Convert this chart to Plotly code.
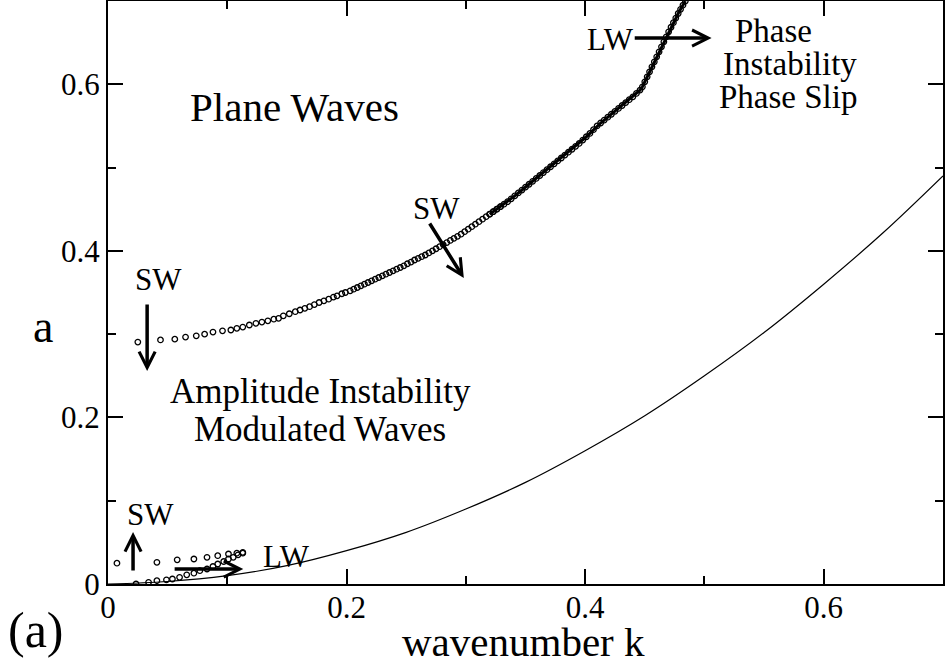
import plotly.graph_objects as go

# ---- data ----
# solid curve (lower boundary)
K_LINE = [0.0, 0.05, 0.10, 0.15, 0.20, 0.25, 0.30, 0.35, 0.40, 0.45, 0.50, 0.55, 0.60, 0.65, 0.70]
A_LINE = [0.0, 0.003, 0.010, 0.022, 0.040, 0.062, 0.090, 0.122, 0.160, 0.202, 0.250, 0.302, 0.360, 0.422, 0.490]

# upper boundary (open circles)
K_UP = [0.025, 0.044, 0.056, 0.065, 0.074, 0.081, 0.088, 0.096, 0.103, 0.108, 0.113, 0.1185, 0.124, 0.129,
        0.134, 0.139, 0.143, 0.147, 0.152, 0.157, 0.161, 0.165, 0.169, 0.173, 0.177, 0.181, 0.185, 0.189,
        0.192, 0.196, 0.199, 0.203, 0.206, 0.209, 0.212, 0.215, 0.218, 0.221, 0.224, 0.227, 0.230, 0.233,
        0.236, 0.239, 0.242, 0.245, 0.248, 0.251, 0.254, 0.257, 0.260, 0.263, 0.266, 0.269, 0.272, 0.275,
        0.278, 0.281, 0.284, 0.287, 0.290, 0.293, 0.296, 0.299, 0.302, 0.305, 0.308, 0.311, 0.314, 0.317,
        0.320, 0.323, 0.326, 0.329, 0.332, 0.335, 0.338, 0.341, 0.344, 0.347, 0.350, 0.353, 0.356, 0.359,
        0.362, 0.365, 0.368, 0.371, 0.374, 0.377, 0.380, 0.383, 0.386, 0.389, 0.392, 0.395, 0.398, 0.401,
        0.404, 0.407, 0.410, 0.413, 0.416, 0.419, 0.422, 0.425, 0.428, 0.431, 0.434, 0.437, 0.440, 0.443,
        0.446, 0.448, 0.450, 0.452, 0.454, 0.456, 0.458, 0.460, 0.462, 0.464, 0.466, 0.468, 0.470, 0.472,
        0.474, 0.476, 0.478, 0.480, 0.482, 0.484]
A_UP = [0.2905, 0.293, 0.294, 0.2965, 0.298, 0.300, 0.3025, 0.304, 0.305, 0.307, 0.3085, 0.311, 0.313, 0.3145,
        0.316, 0.318, 0.319, 0.322, 0.3245, 0.327, 0.329, 0.331, 0.333, 0.3355, 0.338, 0.340, 0.342, 0.3445,
        0.346, 0.3485, 0.350, 0.352, 0.354, 0.356, 0.358, 0.360, 0.362, 0.364, 0.366, 0.368, 0.370, 0.372,
        0.374, 0.376, 0.378, 0.380, 0.382, 0.3845, 0.3865, 0.389, 0.391, 0.393, 0.395, 0.3975, 0.400, 0.4025,
        0.405, 0.4075, 0.410, 0.4125, 0.415, 0.4175, 0.420, 0.423, 0.426, 0.429, 0.432, 0.435, 0.438, 0.441,
        0.444, 0.447, 0.450, 0.453, 0.456, 0.459, 0.4625, 0.466, 0.4695, 0.473, 0.4765, 0.480, 0.4835, 0.487,
        0.4905, 0.494, 0.4975, 0.501, 0.5045, 0.508, 0.5115, 0.515, 0.5185, 0.522, 0.5255, 0.529, 0.533, 0.537,
        0.541, 0.5455, 0.550, 0.5535, 0.557, 0.5605, 0.564, 0.5675, 0.571, 0.5745, 0.578, 0.5815, 0.585, 0.589,
        0.593, 0.597, 0.603, 0.609, 0.615, 0.621, 0.627, 0.633, 0.639, 0.645, 0.651, 0.657, 0.663, 0.6685,
        0.674, 0.6795, 0.685, 0.690, 0.695, 0.700]

# small loop near the origin (open circles)
K_LOOP_TOP = [0.0075, 0.041, 0.058, 0.072, 0.083, 0.092, 0.101, 0.108, 0.113]
A_LOOP_TOP = [0.025, 0.026, 0.029, 0.030, 0.032, 0.034, 0.036, 0.037, 0.038]
K_LOOP_BOT = [0.0235, 0.034, 0.041, 0.049, 0.054, 0.060, 0.066, 0.072, 0.077, 0.083, 0.088, 0.092,
              0.097, 0.101, 0.105, 0.109, 0.113]
A_LOOP_BOT = [0.000, 0.002, 0.004, 0.005, 0.006, 0.008, 0.011, 0.013, 0.016, 0.018, 0.021, 0.024,
              0.027, 0.030, 0.032, 0.035, 0.037]

X_TICKS = [0, 0.2, 0.4, 0.6]
X_TICK_TEXT = ["0", "0.2", "0.4", "0.6"]
Y_TICKS = [0, 0.2, 0.4, 0.6]
Y_TICK_TEXT = ["0", "0.2", "0.4", "0.6"]

FONT = "Liberation Serif, Times New Roman, serif"

marker = dict(symbol="circle-open", size=5.5, color="black", line=dict(width=1.3, color="black"))

# where the circles are packed so tightly they merge into a solid band
DENSE_FROM = 0.33
k_sparse = [k for k in K_UP if k < DENSE_FROM]
a_sparse = [a for k, a in zip(K_UP, A_UP) if k < DENSE_FROM]
k_dense = [k for k in K_UP if k >= DENSE_FROM - 0.01]
a_dense = [a for k, a in zip(K_UP, A_UP) if k >= DENSE_FROM - 0.01]

fig = go.Figure()
fig.add_trace(go.Scatter(x=K_LINE, y=A_LINE, mode="lines", line=dict(color="black", width=1.2, shape="spline"),
                         hoverinfo="skip"))
fig.add_trace(go.Scatter(x=k_sparse, y=a_sparse, mode="markers", marker=marker))
fig.add_trace(go.Scatter(x=k_dense, y=a_dense, mode="lines+markers", marker=marker,
                         line=dict(color="black", width=3)))
fig.add_trace(go.Scatter(x=K_LOOP_TOP, y=A_LOOP_TOP, mode="markers", marker=marker))
fig.add_trace(go.Scatter(x=K_LOOP_BOT, y=A_LOOP_BOT, mode="markers", marker=marker))

ann = []
def text(x, y, s, size, xref="x", yref="y"):
    ann.append(dict(x=x, y=y, xref=xref, yref=yref, text=s, showarrow=False,
                    font=dict(family=FONT, size=size, color="black"),
                    xanchor="center", yanchor="middle"))

def arrow(x0, y0, x1, y1):
    ann.append(dict(x=x1, y=y1, ax=x0, ay=y0, xref="x", yref="y", axref="x", ayref="y",
                    text="", showarrow=True, arrowhead=5, arrowsize=0.9, arrowwidth=3.5,
                    arrowcolor="black", standoff=0, startstandoff=0))

text(0.1563, 0.5726, "Plane Waves", 41)
text(0.178, 0.2317, "Amplitude Instability", 35)
text(0.178, 0.186, "Modulated Waves", 35)
text(0.558, 0.664, "Phase", 33)
text(0.5714, 0.624, "Instability", 33)
text(0.5697, 0.5846, "Phase Slip", 33)
text(0.421, 0.654, "LW", 31)
text(0.2756, 0.4514, "SW", 31)
text(0.042, 0.366, "SW", 31)
text(0.036, 0.084, "SW", 31)
text(0.1496, 0.0336, "LW", 31)

arrow(0.4403, 0.6555, 0.506, 0.6555)
arrow(0.2689, 0.4346, 0.2983, 0.3673)
arrow(0.0328, 0.3373, 0.0328, 0.2557)
arrow(0.021, 0.0144, 0.021, 0.0624)
arrow(0.0546, 0.018, 0.1134, 0.018)

text(-0.0778, 0.4425, "a", 46, xref="paper", yref="paper")
text(0.4982, -0.0995, "wavenumber k", 41, xref="paper", yref="paper")
text(-0.0862, -0.079, "(a)", 50, xref="paper", yref="paper")

axis_common = dict(showgrid=False, zeroline=False, showline=True, linecolor="black", linewidth=2,
                   mirror="ticks", ticks="inside", ticklen=15, tickwidth=1.5, tickcolor="black",
                   automargin=False,
                   tickfont=dict(family=FONT, size=31, color="black"),
                   minor=dict(ticks="inside", ticklen=8, tickwidth=1.5, tickcolor="black", dtick=0.1))

fig.update_xaxes(range=[0, 0.7], tickvals=X_TICKS, ticktext=X_TICK_TEXT, ticklabelstandoff=-5, **axis_common)
fig.update_yaxes(range=[0, 0.7], tickvals=Y_TICKS, ticktext=Y_TICK_TEXT, **axis_common)

fig.update_layout(width=945, height=664, margin=dict(l=108, r=2, t=1, b=80),
                  paper_bgcolor="white", plot_bgcolor="white", showlegend=False,
                  annotations=ann)

fig.write_html("out.html", config={"displayModeBar": False},
               post_script="document.body.style.margin='0';document.body.style.overflow='hidden';")
